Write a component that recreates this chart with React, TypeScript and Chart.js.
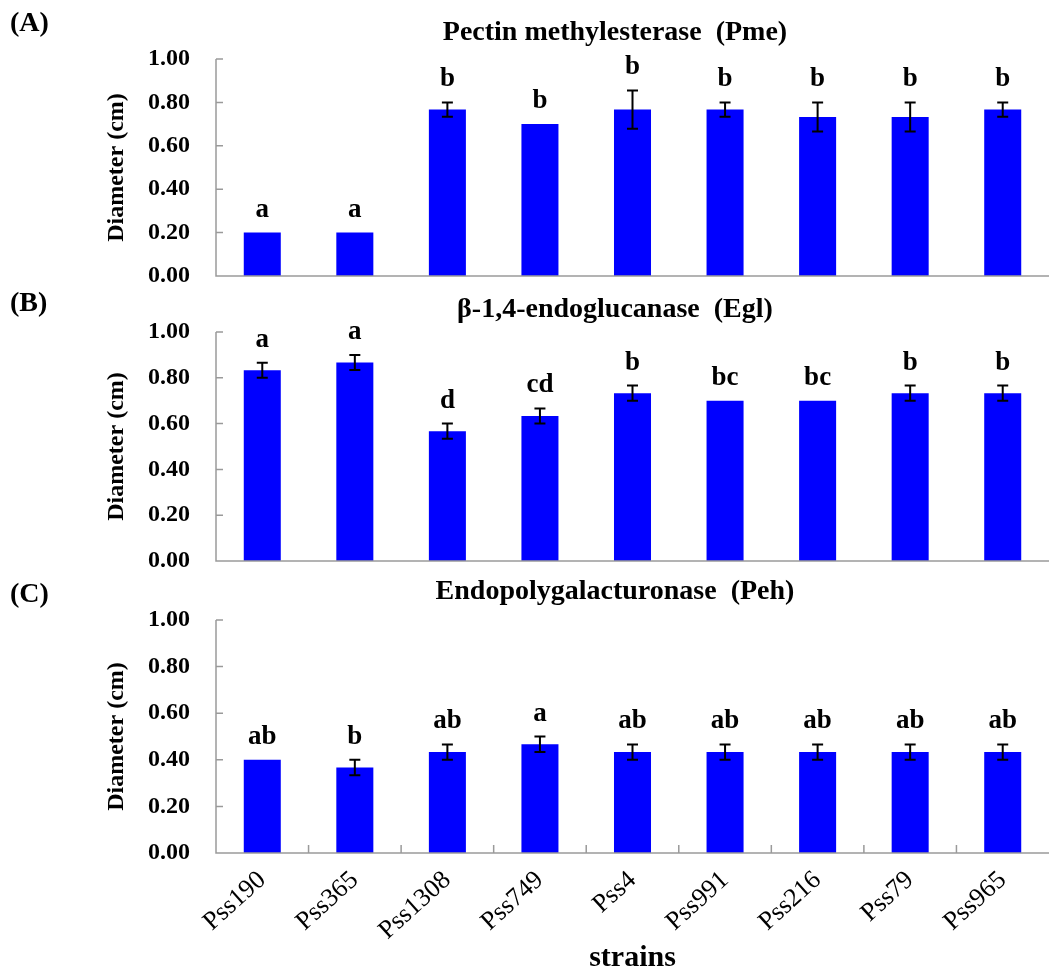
import React, { useEffect, useRef } from "react";
import { Chart, registerables } from "chart.js";
Chart.register(...registerables);

const strains = ["Pss190", "Pss365", "Pss1308", "Pss749", "Pss4", "Pss991", "Pss216", "Pss79", "Pss965"];
const yTicks = [0, 0.2, 0.4, 0.6, 0.8, 1.0];

const pmeValues = [0.2, 0.2, 0.767, 0.7, 0.767, 0.767, 0.733, 0.733, 0.767];
const pmeErrors = [0, 0, 0.033, 0, 0.088, 0.033, 0.067, 0.067, 0.033];
const pmeLetters = ["a", "a", "b", "b", "b", "b", "b", "b", "b"];

const eglValues = [0.833, 0.867, 0.567, 0.633, 0.733, 0.7, 0.7, 0.733, 0.733];
const eglErrors = [0.033, 0.033, 0.033, 0.033, 0.033, 0, 0, 0.033, 0.033];
const eglLetters = ["a", "a", "d", "cd", "b", "bc", "bc", "b", "b"];

const pehValues = [0.4, 0.367, 0.433, 0.467, 0.433, 0.433, 0.433, 0.433, 0.433];
const pehErrors = [0, 0.033, 0.033, 0.033, 0.033, 0.033, 0.033, 0.033, 0.033];
const pehLetters = ["ab", "b", "ab", "a", "ab", "ab", "ab", "ab", "ab"];

const SERIF = "'Liberation Serif', 'Times New Roman', serif";
const AXIS_COLOR = "#9a9a9a";

type PanelProps = {
  values: number[];
  errors: number[];
  letters: string[];
  top: number;
  height: number;
  padTop: number;
  padBottom: number;
  showX: boolean;
};

function Panel({ values, errors, letters, top, height, padTop, padBottom, showX }: PanelProps) {
  const ref = useRef<HTMLCanvasElement | null>(null);
  useEffect(() => {
    if (!ref.current) return;
    const decor = {
      id: "decor",
      afterDatasetsDraw(chart: any) {
        const ctx = chart.ctx;
        const area = chart.chartArea;
        const xs = chart.scales.x;
        const ys = chart.scales.y;
        ctx.save();
        // error bars
        ctx.strokeStyle = "#000";
        ctx.lineWidth = 2;
        values.forEach((v, i) => {
          const e = errors[i];
          if (!e) return;
          const x = xs.getPixelForValue(i);
          const y1 = ys.getPixelForValue(v + e);
          const y2 = ys.getPixelForValue(v - e);
          ctx.beginPath();
          ctx.moveTo(x, y1);
          ctx.lineTo(x, y2);
          ctx.moveTo(x - 5.5, y1);
          ctx.lineTo(x + 5.5, y1);
          ctx.moveTo(x - 5.5, y2);
          ctx.lineTo(x + 5.5, y2);
          ctx.stroke();
        });
        // letters
        ctx.fillStyle = "#000";
        ctx.font = `bold 27px ${SERIF}`;
        ctx.textAlign = "center";
        ctx.textBaseline = "alphabetic";
        values.forEach((v, i) => {
          const x = xs.getPixelForValue(i);
          const y = ys.getPixelForValue(v + errors[i]) - 16;
          ctx.fillText(letters[i], x, y);
        });
        // axes
        ctx.strokeStyle = AXIS_COLOR;
        ctx.lineWidth = 1.5;
        ctx.beginPath();
        ctx.moveTo(area.left, area.top);
        ctx.lineTo(area.left, area.bottom);
        ctx.lineTo(area.right, area.bottom);
        yTicks.forEach((t) => {
          const y = ys.getPixelForValue(t);
          ctx.moveTo(area.left, y);
          ctx.lineTo(area.left + 7, y);
        });
        if (showX) {
          for (let i = 0; i < strains.length - 1; i++) {
            const bx = (xs.getPixelForValue(i) + xs.getPixelForValue(i + 1)) / 2;
            ctx.moveTo(bx, area.bottom);
            ctx.lineTo(bx, area.bottom - 8);
          }
        }
        ctx.stroke();
        ctx.restore();
      },
    };
    const chart = new Chart(ref.current, {
      type: "bar",
      data: {
        labels: strains,
        datasets: [
          {
            data: values,
            backgroundColor: "#0000FF",
            borderWidth: 0,
            categoryPercentage: 1,
            barPercentage: 0.4,
          },
        ],
      },
      options: {
        responsive: false,
        animation: false,
        layout: { padding: { left: 102, right: 5, top: padTop, bottom: padBottom } },
        plugins: { legend: { display: false }, tooltip: { enabled: false }, title: { display: false } },
        scales: {
          x: {
            display: showX,
            grid: { display: false, drawTicks: false },
            border: { display: false },
            ticks: {
              color: "#000",
              font: { family: SERIF, size: 26 },
              minRotation: 42,
              maxRotation: 42,
              padding: 12,
              autoSkip: false,
            },
            title: {
              display: true,
              text: "strains",
              color: "#000",
              font: { family: SERIF, size: 30, weight: "bold" },
              padding: 0,
            },
            afterFit: (s: any) => {
              if (showX) s.height = 123;
            },
          },
          y: {
            min: 0,
            max: 1,
            grid: { display: false, drawTicks: true, tickLength: 26 },
            border: { display: false },
            afterBuildTicks: (s: any) => {
              s.ticks = yTicks.map((v) => ({ value: v }));
            },
            ticks: {
              color: "#000",
              padding: 0,
              font: { family: SERIF, size: 24, weight: "bold" },
              callback: (v: any) => Number(v).toFixed(2),
            },
            title: {
              display: true,
              text: "Diameter (cm)",
              color: "#000",
              font: { family: SERIF, size: 24, weight: "bold" },
              padding: 0,
            },
            afterFit: (s: any) => {
              s.width = 114;
            },
          },
        },
      },
      plugins: [decor],
    });
    return () => chart.destroy();
  }, []);
  return (
    <canvas
      ref={ref}
      width={1054}
      height={height}
      style={{ position: "absolute", left: 0, top, width: 1054, height }}
    />
  );
}

const labelStyle: React.CSSProperties = {
  position: "absolute",
  fontFamily: SERIF,
  fontWeight: "bold",
  color: "#000",
  whiteSpace: "pre",
  zIndex: 2,
};

export default function App() {
  return (
    <div style={{ position: "absolute", left: 0, top: 0, width: 1054, height: 976, background: "#fff" }}>
      <Panel values={pmeValues} errors={pmeErrors} letters={pmeLetters} top={0} height={295} padTop={59} padBottom={19} showX={false} />
      <Panel values={eglValues} errors={eglErrors} letters={eglLetters} top={295} height={290} padTop={37} padBottom={24} showX={false} />
      <Panel values={pehValues} errors={pehErrors} letters={pehLetters} top={585} height={391} padTop={35} padBottom={0} showX={true} />
      <div style={{ ...labelStyle, left: 10, top: 8, fontSize: 28, lineHeight: "28px" }}>(A)</div>
      <div style={{ ...labelStyle, left: 10, top: 288, fontSize: 28, lineHeight: "28px" }}>(B)</div>
      <div style={{ ...labelStyle, left: 10, top: 579, fontSize: 28, lineHeight: "28px" }}>(C)</div>
      <div style={{ ...labelStyle, left: 315, width: 600, textAlign: "center", top: 17, fontSize: 28, lineHeight: "28px" }}>Pectin methylesterase  (Pme)</div>
      <div style={{ ...labelStyle, left: 315, width: 600, textAlign: "center", top: 294, fontSize: 28, lineHeight: "28px" }}>β-1,4-endoglucanase  (Egl)</div>
      <div style={{ ...labelStyle, left: 315, width: 600, textAlign: "center", top: 576, fontSize: 28, lineHeight: "28px" }}>Endopolygalacturonase  (Peh)</div>
    </div>
  );
}
